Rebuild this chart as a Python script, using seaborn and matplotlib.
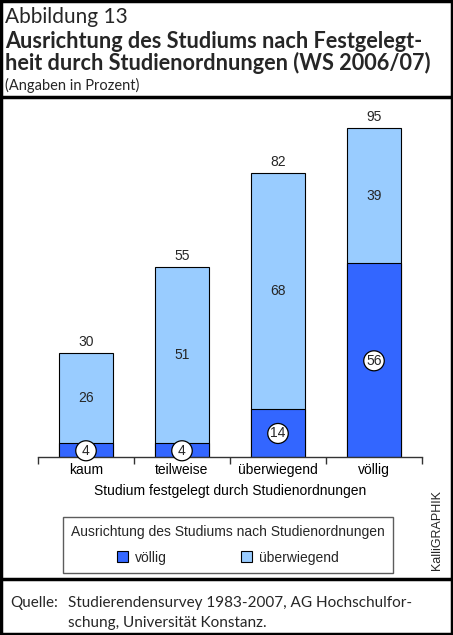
import matplotlib
matplotlib.use("Agg")
import matplotlib.pyplot as plt
import seaborn as sns
import pandas as pd
from matplotlib.patches import Rectangle, Ellipse, Patch
from matplotlib.lines import Line2D

categories = ["kaum", "teilweise", "überwiegend", "völlig"]
voellig = [4, 4, 14, 56]
ueberwiegend = [26, 51, 68, 39]
totals = [a + b for a, b in zip(voellig, ueberwiegend)]

DARK = "#3366FF"
LIGHT = "#99CCFF"

sns.set_theme(style="white")
plt.rcParams["font.family"] = ["Liberation Sans", "DejaVu Sans"]

W, H = 453, 635
fig = plt.figure(figsize=(W / 100, H / 100), dpi=100)

def fx(px):
    return px / W

def fy(py):
    return 1 - py / H

ax = fig.add_axes([fx(38), fy(457), fx(422) - fx(38), fy(111) - fy(457)])

df = pd.DataFrame({"cat": categories, "total": totals, "voellig": voellig,
                   "ueber": ueberwiegend})

sns.barplot(data=df, x="cat", y="total", color=LIGHT, saturation=1, width=0.5625,
            edgecolor="black", linewidth=0.8, ax=ax)
sns.barplot(data=df, x="cat", y="voellig", color=DARK, saturation=1, width=0.5625,
            edgecolor="black", linewidth=0.8, ax=ax)

ax.set_ylim(0, 100)
ax.set_xlim(-0.5, 3.5)
ax.set_yticks([])
ax.set_ylabel("")
ax.set_xlabel("Studium festgelegt durch Studienordnungen", fontsize=10, labelpad=5,
              color="black")
for s in ["top", "left", "right"]:
    ax.spines[s].set_visible(False)
ax.spines["bottom"].set_color("#333333")
ax.spines["bottom"].set_linewidth(1.0)
ax.set_xticks(range(len(categories)))
ax.set_xticklabels(categories, fontsize=10, color="black")
ax.tick_params(axis="x", which="major", length=0, pad=4)
ax.set_xticks([-0.5, 0.5, 1.5, 2.5, 3.5], minor=True)
ax.tick_params(axis="x", which="minor", length=5, width=1, color="#333333",
               direction="out", bottom=True)

# value labels
for i, (v, u, t) in enumerate(zip(voellig, ueberwiegend, totals)):
    ax.text(i, t + 1.2, str(t), ha="center", va="bottom", fontsize=10)
    ax.text(i, v + u / 2, str(u), ha="center", va="center", fontsize=10)
    yc = v / 2 - 0.2
    ax.add_patch(Ellipse((i, yc), width=20.5 / 96, height=20 / 3.46, facecolor="white",
                         edgecolor="black", linewidth=0.9, zorder=5, clip_on=False))
    ax.text(i, yc, str(v), ha="center", va="center", fontsize=10, zorder=6)

# legend
handles = [Patch(facecolor=DARK, edgecolor="black", linewidth=0.8, label="völlig"),
           Patch(facecolor=LIGHT, edgecolor="black", linewidth=0.8, label="überwiegend")]
leg = fig.legend(handles=handles, ncol=2, title="Ausrichtung des Studiums nach Studienordnungen",
                 loc="center", bbox_to_anchor=(fx(228), fy(545)), fontsize=10,
                 title_fontsize=10, frameon=True, fancybox=False, edgecolor="#333333",
                 handlelength=0.8, handleheight=0.8, handletextpad=0.5,
                 columnspacing=5.3, borderpad=0.6, labelspacing=0.4)
leg.get_frame().set_linewidth(1.0)
leg._legend_box.sep = 8

fig.text(fx(437), fy(530), "KalliGRAPHIK", rotation=90, ha="center", va="center",
         fontsize=9)

# titles
TF = ["Lato", "DejaVu Sans"]
fig.text(fx(5), fy(17), "Abbildung 13", fontsize=15, family=TF, va="center", ha="left")
fig.text(fx(5), fy(41), "Ausrichtung des Studiums nach Festgelegt-", fontsize=15.6,
         family=TF, weight="bold", va="center", ha="left")
fig.text(fx(5), fy(63), "heit durch Studienordnungen (WS 2006/07)", fontsize=15.6,
         family=TF, weight="bold", va="center", ha="left")
fig.text(fx(5), fy(85), "(Angaben in Prozent)", fontsize=10.5, family=TF, va="center",
         ha="left")

# source
fig.text(fx(10), fy(603), "Quelle:", fontsize=11, family=TF, va="center", ha="left")
fig.text(fx(68), fy(603), "Studierendensurvey 1983-2007, AG Hochschulfor-", fontsize=11,
         family=TF, va="center", ha="left")
fig.text(fx(68), fy(623), "schung, Universität Konstanz.", fontsize=11, family=TF,
         va="center", ha="left")

# frame lines
fig.add_artist(Rectangle((fx(1), fy(634)), fx(451), fy(1) - fy(634), fill=False,
                         edgecolor="black", linewidth=2.5, transform=fig.transFigure))
fig.add_artist(Line2D([0, 1], [fy(97), fy(97)], color="black", linewidth=2.5,
                      transform=fig.transFigure))
fig.add_artist(Line2D([0, 1], [fy(579), fy(579)], color="black", linewidth=2.5,
                      transform=fig.transFigure))

fig.savefig("out.png", dpi=100)
